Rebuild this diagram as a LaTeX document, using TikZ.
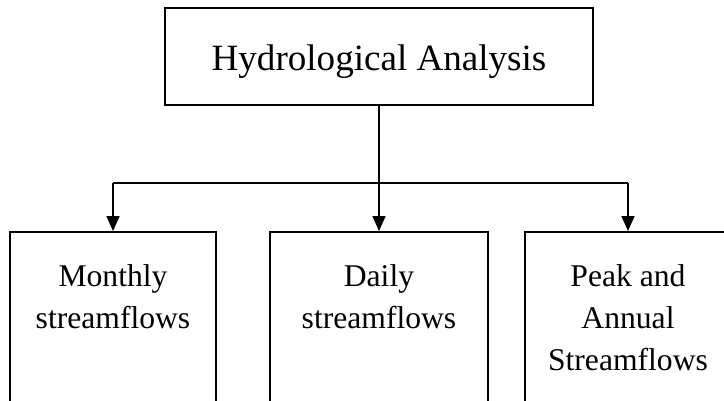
\documentclass[tikz,border=0pt]{standalone}
\usepackage{fontspec}
\setmainfont{Liberation Serif}
\usetikzlibrary{arrows.meta,positioning}

\tikzset{
	box/.style={draw, line width=1.1pt, inner sep=0pt},
	rootbox/.style={box, minimum width=8.56cm, minimum height=1.94cm, text height=0.7cm, text depth=0.16cm, font=\fontsize{21.1}{26}\selectfont},
	leafbox/.style={box, anchor=north, minimum height=3.78cm},
	leaftext/.style={align=center, inner sep=0pt, font=\fontsize{18}{23.9}\selectfont},
	link/.style={line width=0.9pt},
	feed/.style={link, -{Triangle[length=8.5pt, width=7.4pt]}}
}

\begin{document}
\begin{tikzpicture}[x=0.02cm, y=-0.02cm]
			%%%%% START %%%%%
			\useasboundingbox (0,0) rectangle (724,400);
			\clip (0,0) rectangle (724,400);
			
			\node[rootbox] (hydro) at (379,56.5) {Hydrological Analysis};
			
			\node[leafbox, minimum width=4.12cm] (monthly) at (113,231) {};
			\node[leafbox, minimum width=4.36cm] (daily) at (379,231) {};
			\node[leafbox, minimum width=4.12cm] (peak) at (628,231) {};
			
			\node[leaftext, below=0.66cm of monthly.north] (monthlytxt) {Monthly\\streamflows};
			\node[leaftext, below=0.66cm of daily.north] (dailytxt) {Daily\\streamflows};
			\node[leaftext, below=0.66cm of peak.north] (peaktxt) {Peak and\\Annual\\Streamflows};
			
			\coordinate (split) at (379,183);
			
			\draw[link] (hydro.south) -- (split);
			\draw[link] (monthly.north |- split) -- (peak.north |- split);
			\draw[feed] (monthly.north |- split) -- (monthly.north);
			\draw[feed] (split) -- (daily.north);
			\draw[feed] (peak.north |- split) -- (peak.north);
			%%%%% END %%%%%
\end{tikzpicture}
\end{document}
